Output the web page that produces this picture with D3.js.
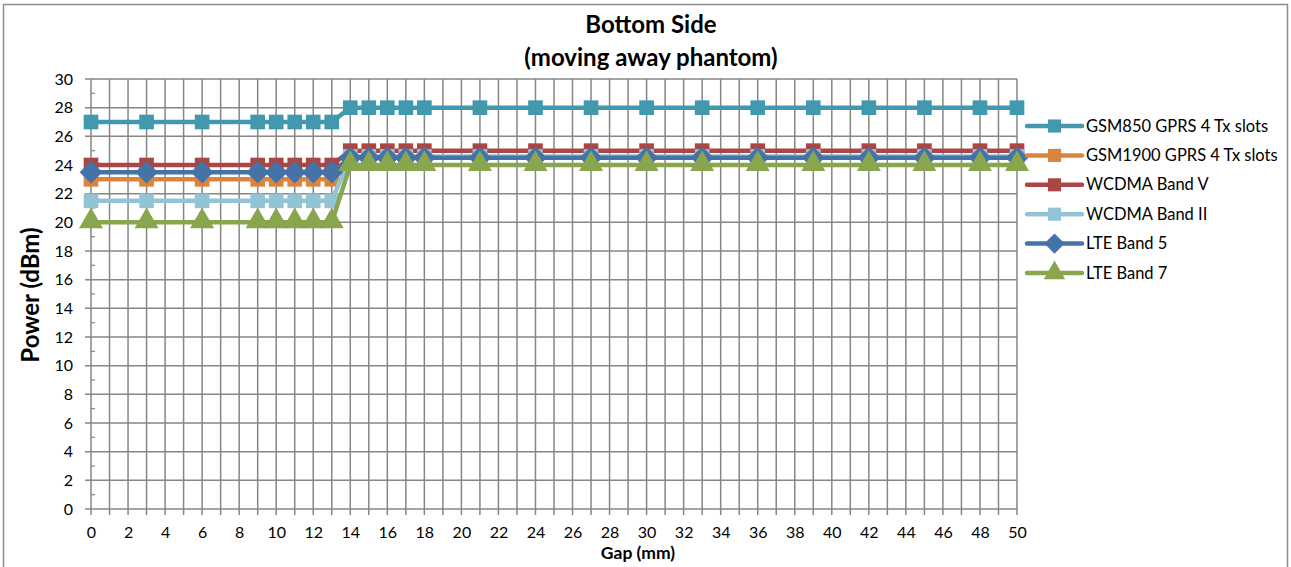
<!DOCTYPE html>
<html>
<head>
<meta charset="utf-8">
<script src="https://cdn.jsdelivr.net/npm/d3@7"></script>
<style>
  body { margin: 0; background: #fff; }
  svg { font-family: Lato, "Open Sans", sans-serif; }
</style>
</head>
<body>
<svg width="1291" height="567"></svg>
<script>
// data
var gap = [0, 3, 6, 9, 10, 11, 12, 13, 14, 15, 16, 17, 18, 21, 24, 27, 30, 33, 36, 39, 42, 45, 48, 50];
var gsm850  = [27, 27, 27, 27, 27, 27, 27, 27, 28, 28, 28, 28, 28, 28, 28, 28, 28, 28, 28, 28, 28, 28, 28, 28];
var gsm1900 = [23, 23, 23, 23, 23, 23, 23, 23, 24.5, 24.5, 24.5, 24.5, 24.5, 24.5, 24.5, 24.5, 24.5, 24.5, 24.5, 24.5, 24.5, 24.5, 24.5, 24.5];
var wcdma5  = [24, 24, 24, 24, 24, 24, 24, 24, 25, 25, 25, 25, 25, 25, 25, 25, 25, 25, 25, 25, 25, 25, 25, 25];
var wcdma2  = [21.5, 21.5, 21.5, 21.5, 21.5, 21.5, 21.5, 21.5, 24.6, 24.6, 24.6, 24.6, 24.6, 24.6, 24.6, 24.6, 24.6, 24.6, 24.6, 24.6, 24.6, 24.6, 24.6, 24.6];
var lte5    = [23.5, 23.5, 23.5, 23.5, 23.5, 23.5, 23.5, 23.5, 24.5, 24.5, 24.5, 24.5, 24.5, 24.5, 24.5, 24.5, 24.5, 24.5, 24.5, 24.5, 24.5, 24.5, 24.5, 24.5];
var lte7    = [20, 20, 20, 20, 20, 20, 20, 20, 24, 24, 24, 24, 24, 24, 24, 24, 24, 24, 24, 24, 24, 24, 24, 24];

var seriesNames = ["GSM850 GPRS 4 Tx slots", "GSM1900 GPRS 4 Tx slots", "WCDMA Band V", "WCDMA Band II", "LTE Band 5", "LTE Band 7"];
var seriesValues = [gsm850, gsm1900, wcdma5, wcdma2, lte5, lte7];
var colors = ["#4198af", "#db843d", "#aa4643", "#93c4d6", "#4572a7", "#89a54e"];
var diamond = d3.symbolDiamond2 || d3.symbolDiamond;
var shapes = [d3.symbolSquare, d3.symbolSquare, d3.symbolSquare, d3.symbolSquare, diamond, d3.symbolTriangle];
var sizes = [215, 215, 215, 215, 330, 250];

var svg = d3.select("svg");
var gridColor = "#868686";

// outer border
svg.append("rect").attr("x", 3.5).attr("y", 4.5).attr("width", 1284).attr("height", 570)
  .attr("fill", "none").attr("stroke", "#8c8c8c").attr("stroke-width", 1.5);

var pLeft = 91, pRight = 1017, pTop = 79, pBottom = 509;
var x = d3.scaleLinear().domain([0, 50]).range([pLeft, pRight]);
var y = d3.scaleLinear().domain([0, 30]).range([pBottom, pTop]);

// grid
svg.append("g").selectAll("line").data(d3.range(0, 51)).join("line")
  .attr("x1", function(d) { return x(d); }).attr("x2", function(d) { return x(d); })
  .attr("y1", pTop).attr("y2", pBottom + 6)
  .attr("stroke", gridColor).attr("stroke-width", 1.5);
svg.append("g").selectAll("line").data(d3.range(0, 31, 2)).join("line")
  .attr("x1", pLeft - 6).attr("x2", pRight)
  .attr("y1", function(d) { return y(d); }).attr("y2", function(d) { return y(d); })
  .attr("stroke", gridColor).attr("stroke-width", 1.5);
// minor y ticks
svg.append("g").selectAll("line").data(d3.range(1, 30, 2)).join("line")
  .attr("x1", pLeft).attr("x2", pLeft + 4)
  .attr("y1", function(d) { return y(d); }).attr("y2", function(d) { return y(d); })
  .attr("stroke", gridColor).attr("stroke-width", 1.2);

// axes labels via d3 axes
var xAxis = svg.append("g").attr("transform", "translate(0," + pBottom + ")")
  .call(d3.axisBottom(x).tickValues(d3.range(0, 51, 2)).tickSize(0).tickPadding(18));
var yAxis = svg.append("g").attr("transform", "translate(" + pLeft + ",0)")
  .call(d3.axisLeft(y).tickValues(d3.range(0, 31, 2)).tickSize(0).tickPadding(18));
[xAxis, yAxis].forEach(function(a) {
  a.select(".domain").remove();
  a.selectAll("text").attr("font-size", 16).attr("fill", "#000").attr("font-family", "Lato, sans-serif");
});

// lines + markers
var line = d3.line().x(function(d) { return x(d[0]); }).y(function(d) { return y(d[1]); });
seriesValues.forEach(function(vals, i) {
  var pts = gap.map(function(g, j) { return [g, vals[j]]; });
  var g = svg.append("g");
  g.append("path").datum(pts).attr("d", line)
    .attr("fill", "none").attr("stroke", colors[i]).attr("stroke-width", 4.5).attr("stroke-linejoin", "round");
  g.selectAll("path.m").data(pts).join("path").attr("class", "m")
    .attr("d", d3.symbol().type(shapes[i]).size(sizes[i]))
    .attr("transform", function(d) { return "translate(" + x(d[0]) + "," + (y(d[1]) + (shapes[i] === d3.symbolTriangle ? -1 : 0)) + ")"; })
    .attr("fill", colors[i]);
});

// titles
svg.append("text").attr("x", 651).attr("y", 33).attr("text-anchor", "middle")
  .attr("font-weight", "bold").attr("font-size", 24).text("Bottom Side");
svg.append("text").attr("x", 651).attr("y", 66).attr("text-anchor", "middle")
  .attr("font-weight", "bold").attr("font-size", 24).text("(moving away phantom)");
svg.append("text").attr("transform", "translate(39,295) rotate(-90)").attr("text-anchor", "middle")
  .attr("font-weight", "bold").attr("font-size", 24).text("Power (dBm)");
svg.append("text").attr("x", 638).attr("y", 559).attr("text-anchor", "middle")
  .attr("font-weight", "bold").attr("font-size", 17.5).text("Gap (mm)");

// legend
var leg = svg.append("g").selectAll("g").data(seriesNames).join("g")
  .attr("transform", function(d, i) { return "translate(1027," + (126 + i * 29.4) + ")"; });
leg.append("line").attr("x1", 0).attr("x2", 55)
  .attr("stroke", function(d, i) { return colors[i]; }).attr("stroke-width", 4.5).attr("stroke-linecap", "round");
leg.append("path")
  .attr("d", function(d, i) { return d3.symbol().type(shapes[i]).size(sizes[i] * 0.8)(); })
  .attr("transform", "translate(27.5,0)")
  .attr("fill", function(d, i) { return colors[i]; });
leg.append("text").attr("x", 59).attr("y", 5.5).attr("font-size", 16.5).text(function(d) { return d; });
</script>
</body>
</html>
